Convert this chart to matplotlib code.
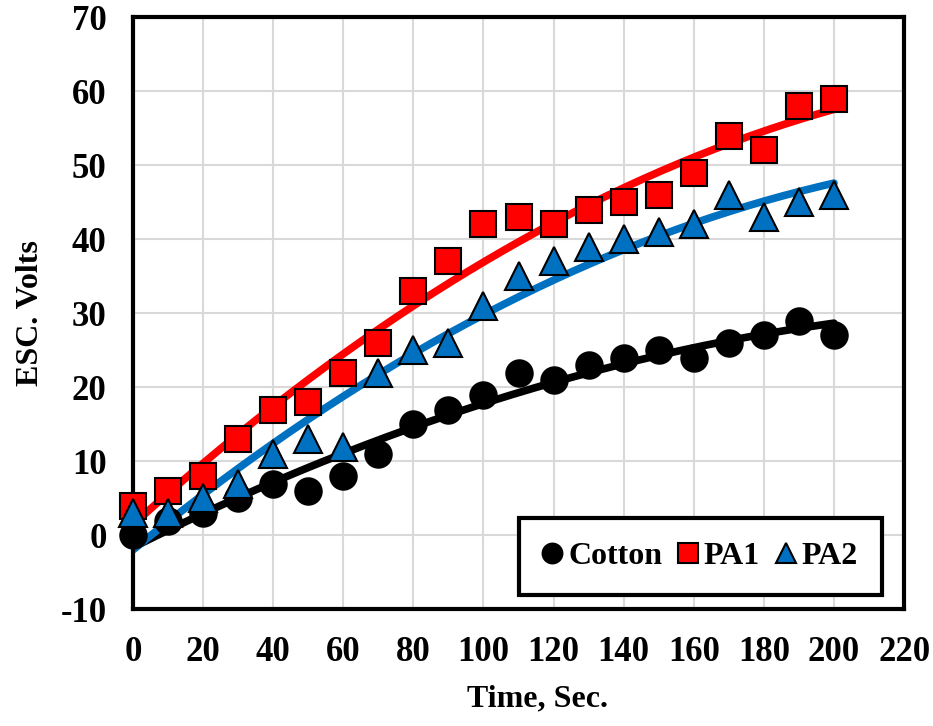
import numpy as np
import matplotlib.pyplot as plt

# time (s) and measured ESC values (V)
time_s = [0, 10, 20, 30, 40, 50, 60, 70, 80, 90, 100,
          110, 120, 130, 140, 150, 160, 170, 180, 190, 200]
cotton = [0, 2, 3, 5, 7, 6, 8, 11, 15, 17, 19,
          22, 21, 23, 24, 25, 24, 26, 27, 29, 27]
pa1 = [4, 6, 8, 13, 17, 18, 22, 26, 33, 37, 42,
       43, 42, 44, 45, 46, 49, 54, 52, 58, 59]
pa2 = [3, 3, 5, 7, 11, 13, 12, 22, 25, 26, 31,
       35, 37, 39, 40, 41, 42, 46, 43, 45, 46]

x_ticks = list(range(0, 221, 20))
y_ticks = list(range(-10, 71, 10))

plt.rcParams['font.family'] = ['Liberation Serif', 'DejaVu Serif']
plt.rcParams['font.weight'] = 'bold'
plt.rcParams['axes.unicode_minus'] = False

fig = plt.figure(figsize=(9.33, 7.26), dpi=100)
ax = fig.add_axes([0.1425, 0.1605, 0.8265, 0.816])

x = np.array(time_s, dtype=float)
series = [
    ('Cotton', cotton, 'o', 'black', 'black'),
    ('PA1', pa1, 's', '#ff0000', 'red'),
    ('PA2', pa2, '^', '#0070c0', '#0070c0'),
]

# polynomial trend lines (2nd order), like the spreadsheet trendline
for name, vals, mk, fc, lc in series:
    coef = np.polyfit(x, vals, 2)
    xf = np.linspace(0, 200, 200)
    ax.plot(xf, np.polyval(coef, xf), color=lc, linewidth=5.5,
            solid_capstyle='round', zorder=2)

for name, vals, mk, fc, lc in series:
    ms = 19 if mk != '^' else 20
    ax.plot(x, vals, linestyle='none', marker=mk, markersize=ms,
            markerfacecolor=fc, markeredgecolor='black', markeredgewidth=1.5,
            label=name, clip_on=False, zorder=3)

ax.set_xlim(0, 220)
ax.set_ylim(-10, 70)
ax.set_xticks(x_ticks)
ax.set_yticks(y_ticks)
ax.tick_params(length=0, labelsize=25)
ax.tick_params(axis='x', pad=19)
ax.tick_params(axis='y', pad=19)
ax.grid(True, color='#d9d9d9', linewidth=1.5)
ax.set_axisbelow(True)
for s in ax.spines.values():
    s.set_linewidth(3)
    s.set_color('black')

ax.set_xlabel('Time, Sec.', fontsize=23, fontweight='bold')
ax.xaxis.set_label_coords(0.525, -0.127)
ax.set_ylabel('ESC. Volts', fontsize=23, fontweight='bold')
ax.yaxis.set_label_coords(-0.114, 0.5)

leg = ax.legend(loc='lower right', bbox_to_anchor=(0.971, 0.0245), ncol=3,
                fontsize=23, markerscale=0.75, handlelength=0.6,
                handletextpad=0.2, columnspacing=0.5,
                borderpad=0.75, borderaxespad=0,
                fancybox=False, edgecolor='black', framealpha=1)
leg.get_frame().set_linewidth(3)

plt.savefig('out.png', dpi=100)
